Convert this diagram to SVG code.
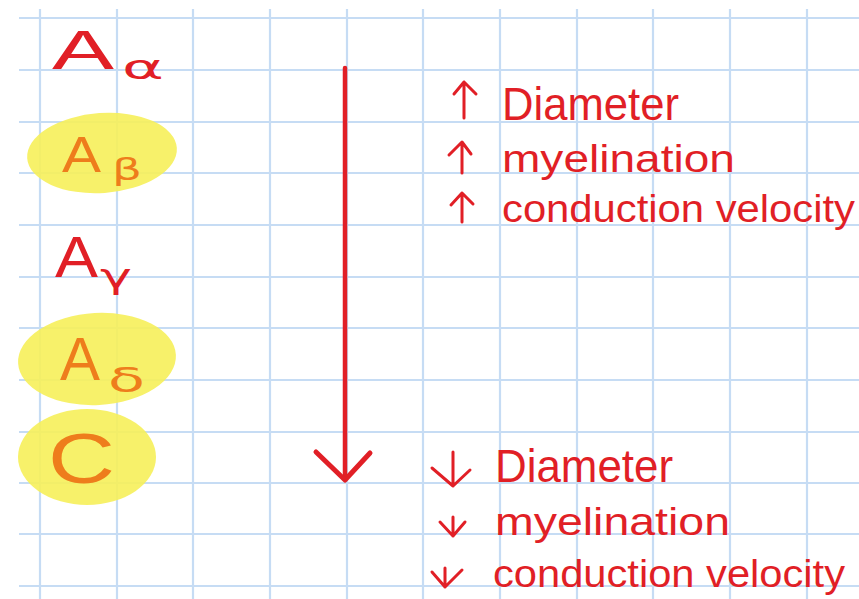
<svg xmlns="http://www.w3.org/2000/svg" width="859" height="599" viewBox="0 0 859 599">
<style>
.grid line{stroke:#c6dcf4;stroke-width:2.2}
.red{fill:#e11f26}
.org{fill:#ee7d1c}
.hl{fill:#f6ef5a;opacity:0.9}
.t{font-family:"Liberation Sans","DejaVu Sans",sans-serif}
.sym{font-family:"DejaVu Sans","Liberation Sans",sans-serif}
.arr{fill:none;stroke:#e11f26;stroke-linecap:round;stroke-linejoin:round}
</style>
<rect width="859" height="599" fill="#fff"/>
<g class="grid">
<line x1="40" y1="9" x2="40" y2="599"/><line x1="117" y1="9" x2="117" y2="599"/><line x1="193" y1="9" x2="193" y2="599"/><line x1="270" y1="9" x2="270" y2="599"/><line x1="347" y1="9" x2="347" y2="599"/><line x1="423" y1="9" x2="423" y2="599"/><line x1="500" y1="9" x2="500" y2="599"/><line x1="577" y1="9" x2="577" y2="599"/><line x1="653" y1="9" x2="653" y2="599"/><line x1="730" y1="9" x2="730" y2="599"/><line x1="807" y1="9" x2="807" y2="599"/>
<line x1="19" y1="18" x2="859" y2="18"/><line x1="19" y1="70" x2="859" y2="70"/><line x1="19" y1="122" x2="859" y2="122"/><line x1="19" y1="173" x2="859" y2="173"/><line x1="19" y1="225" x2="859" y2="225"/><line x1="19" y1="277" x2="859" y2="277"/><line x1="19" y1="328" x2="859" y2="328"/><line x1="19" y1="380" x2="859" y2="380"/><line x1="19" y1="432" x2="859" y2="432"/><line x1="19" y1="483" x2="859" y2="483"/><line x1="19" y1="534" x2="859" y2="534"/><line x1="19" y1="586" x2="859" y2="586"/>
</g>
<g id="highlights">
<ellipse class="hl" cx="102" cy="153" rx="75" ry="40" transform="rotate(-4 102 153)"/>
<ellipse class="hl" cx="97" cy="359" rx="79" ry="46" transform="rotate(-3 97 359)"/>
<ellipse class="hl" cx="87" cy="457" rx="69" ry="48"/>
</g>
<g id="n-aalpha">
<text class="t red" x="52" y="69" font-size="56" textLength="62" lengthAdjust="spacingAndGlyphs">A</text>
<text class="sym red" x="122" y="79" font-size="34" textLength="42" lengthAdjust="spacingAndGlyphs">α</text>
</g>
<g id="n-abeta">
<text class="t org" x="62" y="172" font-size="50" textLength="39" lengthAdjust="spacingAndGlyphs">A</text>
<text class="sym org" x="112" y="180" font-size="30" textLength="30" lengthAdjust="spacingAndGlyphs">β</text>
</g>
<g id="n-agamma">
<text class="t red" x="55" y="277" font-size="58" textLength="43" lengthAdjust="spacingAndGlyphs">A</text>
<text class="sym red" x="100" y="288" font-size="34" textLength="32" lengthAdjust="spacingAndGlyphs">γ</text>
</g>
<g id="n-adelta">
<text class="t org" x="60" y="380" font-size="62" textLength="40" lengthAdjust="spacingAndGlyphs">A</text>
<text class="sym org" x="108" y="392" font-size="34" textLength="37" lengthAdjust="spacingAndGlyphs">δ</text>
</g>
<g id="n-c">
<text class="t org" x="48" y="483" font-size="70" textLength="67" lengthAdjust="spacingAndGlyphs">C</text>
</g>
<g id="connectors">
<path class="arr" stroke-width="4.5" d="M345 68 L345 478"/>
<path class="arr" stroke-width="5" d="M316 452 L345 480 L370 453"/>
<path class="arr" stroke-width="3" d="M464 118 L464 82 M454 94 L464 82 L476 94"/>
<path class="arr" stroke-width="3" d="M462 173 L462 142 M449 155 L462 142 L471 154"/>
<path class="arr" stroke-width="3" d="M462 222 L462 193 M451 205 L462 193 L473 204"/>
<path class="arr" stroke-width="3" d="M453 452 L453 486 M432 468 L453 486 L470 470"/>
<path class="arr" stroke-width="3" d="M453 517 L453 536 M440 522 L453 536 L465 522"/>
<path class="arr" stroke-width="3" d="M445 568 L445 587 M432 572 L445 587 L462 570"/>
</g>
<g id="n-up">
<text class="t red" x="502" y="120" font-size="46" textLength="177" lengthAdjust="spacingAndGlyphs">Diameter</text>
<text class="t red" x="502" y="172" font-size="38" textLength="233" lengthAdjust="spacingAndGlyphs">myelination</text>
<text class="t red" x="502" y="222" font-size="38" textLength="353" lengthAdjust="spacingAndGlyphs">conduction velocity</text>
</g>
<g id="n-down">
<text class="t red" x="495" y="482" font-size="46" textLength="178" lengthAdjust="spacingAndGlyphs">Diameter</text>
<text class="t red" x="495" y="535" font-size="38" textLength="235" lengthAdjust="spacingAndGlyphs">myelination</text>
<text class="t red" x="493" y="587" font-size="38" textLength="352" lengthAdjust="spacingAndGlyphs">conduction velocity</text>
</g>
</svg>
